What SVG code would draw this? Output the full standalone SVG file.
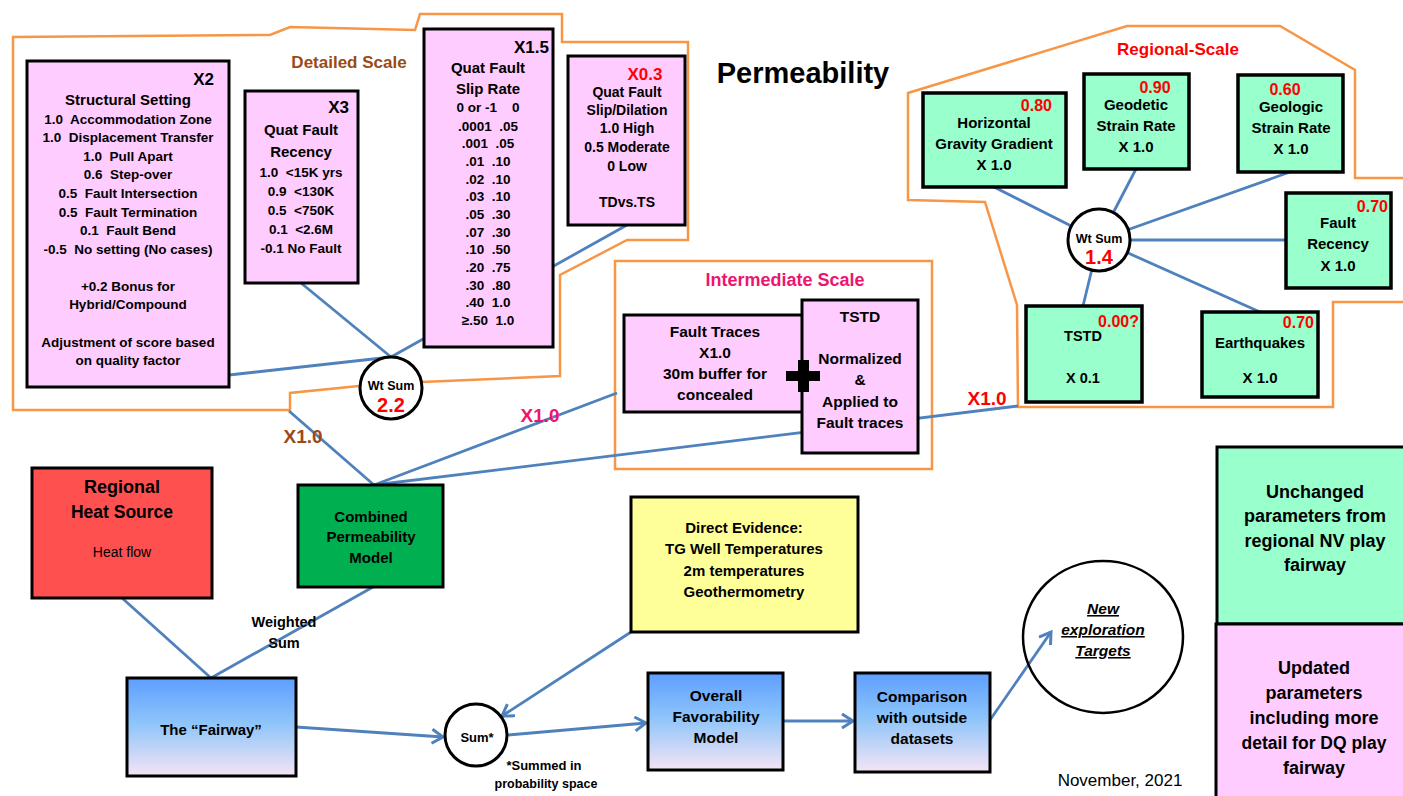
<svg xmlns="http://www.w3.org/2000/svg" width="1403" height="796" viewBox="0 0 1403 796">
<defs>
<style>
.t{font-family:"Liberation Sans",Arial,sans-serif;font-weight:bold;fill:#000;text-anchor:middle}
.n{font-weight:normal}
.e{text-anchor:end}
.red{fill:#FF0000}
.brn{fill:#9C4A14}
.pnk{fill:#EE1570}
.pk{fill:#FFCCFF;stroke:#000;stroke-width:3}
.gr{fill:#99FFCC;stroke:#000;stroke-width:3.5}
.bl{fill:url(#blueg);stroke:#000;stroke-width:3}
.org{fill:none;stroke:#F79646;stroke-width:2.5;stroke-linejoin:miter}
.cn{stroke:#4F81BD;stroke-width:2.8;fill:none}
.ar{marker-end:url(#arr)}
.cir{fill:#fff;stroke:#000;stroke-width:3}
.s135{font-size:13.5px;white-space:pre}
</style>
<linearGradient id="blueg" x1="0" y1="0" x2="0" y2="1">
<stop offset="0" stop-color="#5E9EFF"/>
<stop offset="0.45" stop-color="#8CC4FA"/>
<stop offset="1" stop-color="#F5E4F5"/>
</linearGradient>
<marker id="arr" markerUnits="userSpaceOnUse" markerWidth="16" markerHeight="18" refX="13" refY="8" orient="auto">
<path d="M2,1 L13,8 L2,15" fill="none" stroke="#4F81BD" stroke-width="3"/>
</marker>
</defs>

<g id="regions">
<path class="org" d="M13,37 L270,35 L290,27 L415,30 L420,14 L562,14 L562,42 L688,42 L688,240 L627,240 L560,275 L560,376 L422,382 L359,386 L290,393 L290,410 L13,410 Z"/>
<rect class="org" x="615" y="261" width="317" height="208"/>
<path class="org" d="M1410,302 L1333,302 L1333,407 L1018,407 L1017,305 L985,202 L908,200 L908,93 L1127,26 L1280,26 L1355,70 L1355,178 L1410,178"/>
</g>

<g id="connectors">
<line class="cn" x1="229" y1="375" x2="391" y2="357"/>
<line class="cn" x1="301" y1="283" x2="391" y2="357"/>
<line class="cn" x1="627" y1="225" x2="391" y2="357"/>
<line class="cn" x1="289" y1="411" x2="374" y2="485"/>
<line class="cn" x1="374" y1="485" x2="617" y2="393"/>
<line class="cn" x1="374" y1="485" x2="1018" y2="406"/>
<line class="cn" x1="994" y1="187" x2="1099" y2="240"/>
<line class="cn" x1="1136" y1="169" x2="1099" y2="240"/>
<line class="cn" x1="1290" y1="172" x2="1099" y2="240"/>
<line class="cn" x1="1286" y1="240" x2="1099" y2="240"/>
<line class="cn" x1="1260" y1="312" x2="1099" y2="240"/>
<line class="cn" x1="1083" y1="306" x2="1099" y2="240"/>
<line class="cn" x1="122" y1="598" x2="211" y2="678"/>
<line class="cn" x1="373" y1="587" x2="211" y2="678"/>
<line class="cn ar" x1="296" y1="727" x2="443" y2="737"/>
<line class="cn ar" x1="631" y1="632" x2="502" y2="716"/>
<line class="cn ar" x1="508" y1="735" x2="646" y2="723"/>
<line class="cn ar" x1="783" y1="721" x2="853" y2="721"/>
<line class="cn ar" x1="990" y1="720" x2="1051" y2="632"/>
</g>

<g id="labels">
<text class="t" x="803" y="83" style="font-size:29px">Permeability</text>
<text class="t brn" x="349" y="68" style="font-size:17px">Detailed Scale</text>
<text class="t pnk" x="785" y="286" style="font-size:18px">Intermediate Scale</text>
<text class="t red" x="1178" y="55" style="font-size:17px">Regional-Scale</text>
<text class="t brn" x="303" y="443" style="font-size:19px">X1.0</text>
<text class="t pnk" x="540" y="422" style="font-size:19px">X1.0</text>
<text class="t red" x="987" y="405" style="font-size:19px">X1.0</text>
<text class="t" x="284" y="627" style="font-size:14.5px">Weighted</text>
<text class="t" x="284" y="648" style="font-size:14.5px">Sum</text>
<text class="t" x="544" y="770" style="font-size:13px">*Summed in</text>
<text class="t" x="546" y="788" style="font-size:12.5px">probability space</text>
<text class="t n" x="1120" y="786" style="font-size:17px">November, 2021</text>
</g>

<g id="structural-setting">
<rect class="pk" x="27" y="61" width="202" height="326"/>
<text class="t e" x="214" y="85" style="font-size:17px">X2</text>
<text class="t" x="128" y="105" style="font-size:15px">Structural Setting</text>
<text class="t s135" x="128" y="124">1.0  Accommodation Zone</text>
<text class="t s135" x="128" y="142">1.0  Displacement Transfer</text>
<text class="t s135" x="128" y="161">1.0  Pull Apart</text>
<text class="t s135" x="128" y="179">0.6  Step-over</text>
<text class="t s135" x="128" y="198">0.5  Fault Intersection</text>
<text class="t s135" x="128" y="217">0.5  Fault Termination</text>
<text class="t s135" x="128" y="235">0.1  Fault Bend</text>
<text class="t s135" x="128" y="254">-0.5  No setting (No cases)</text>
<text class="t s135" x="128" y="291">+0.2 Bonus for</text>
<text class="t s135" x="128" y="309">Hybrid/Compound</text>
<text class="t s135" x="128" y="347">Adjustment of score based</text>
<text class="t s135" x="128" y="365">on quality factor</text>
</g>

<g id="quat-fault-recency">
<rect class="pk" x="245" y="91" width="113" height="192"/>
<text class="t e" x="349" y="113" style="font-size:17px">X3</text>
<text class="t" x="301" y="135" style="font-size:15px">Quat Fault</text>
<text class="t" x="301" y="157" style="font-size:15px">Recency</text>
<text class="t s135" x="301" y="177">1.0  &lt;15K yrs</text>
<text class="t s135" x="301" y="196">0.9  &lt;130K</text>
<text class="t s135" x="301" y="215">0.5  &lt;750K</text>
<text class="t s135" x="301" y="234">0.1  &lt;2.6M</text>
<text class="t s135" x="301" y="253">-0.1 No Fault</text>
</g>

<g id="quat-fault-slip-rate">
<rect class="pk" x="424" y="29" width="129" height="318"/>
<text class="t e" x="549" y="53" style="font-size:17px">X1.5</text>
<text class="t" x="488" y="73" style="font-size:15px">Quat Fault</text>
<text class="t" x="488" y="94" style="font-size:15px">Slip Rate</text>
<text class="t s135" x="488" y="112">0 or -1    0</text>
<text class="t s135" x="488" y="131">.0001  .05</text>
<text class="t s135" x="488" y="148">.001  .05</text>
<text class="t s135" x="488" y="166">.01  .10</text>
<text class="t s135" x="488" y="184">.02  .10</text>
<text class="t s135" x="488" y="201">.03  .10</text>
<text class="t s135" x="488" y="219">.05  .30</text>
<text class="t s135" x="488" y="237">.07  .30</text>
<text class="t s135" x="488" y="254">.10  .50</text>
<text class="t s135" x="488" y="272">.20  .75</text>
<text class="t s135" x="488" y="290">.30  .80</text>
<text class="t s135" x="488" y="307">.40  1.0</text>
<text class="t s135" x="488" y="325">≥.50  1.0</text>
</g>

<g id="quat-fault-slip-dilation">
<rect class="pk" x="568" y="56" width="117" height="169"/>
<text class="t red" x="645" y="80" style="font-size:17px">X0.3</text>
<text class="t" x="627" y="97" style="font-size:14px">Quat Fault</text>
<text class="t" x="627" y="115" style="font-size:14px">Slip/Dilation</text>
<text class="t" x="627" y="133" style="font-size:14px">1.0 High</text>
<text class="t" x="627" y="152" style="font-size:14px">0.5 Moderate</text>
<text class="t" x="627" y="171" style="font-size:14px">0 Low</text>
<text class="t" x="627" y="207" style="font-size:14px">TDvs.TS</text>
</g>

<g id="wt-sum-detailed">
<circle class="cir" cx="391" cy="388" r="31"/>
<text class="t" x="391" y="390" style="font-size:12.5px">Wt Sum</text>
<text class="t red" x="391" y="412" style="font-size:20px">2.2</text>
</g>

<g id="fault-traces">
<rect class="pk" x="624" y="315" width="179" height="97"/>
<text class="t" x="715" y="337" style="font-size:15.5px">Fault Traces</text>
<text class="t" x="715" y="358" style="font-size:15.5px">X1.0</text>
<text class="t" x="715" y="379" style="font-size:15.5px">30m buffer for</text>
<text class="t" x="715" y="400" style="font-size:15.5px">concealed</text>
</g>

<g id="tstd-intermediate">
<rect class="pk" x="802" y="300" width="116" height="153"/>
<text class="t" x="860" y="322" style="font-size:15.5px">TSTD</text>
<text class="t" x="860" y="364" style="font-size:15.5px">Normalized</text>
<text class="t" x="860" y="385" style="font-size:15.5px">&amp;</text>
<text class="t" x="860" y="407" style="font-size:15.5px">Applied to</text>
<text class="t" x="860" y="428" style="font-size:15.5px">Fault traces</text>
</g>

<g id="plus">
<rect x="786" y="371" width="34" height="10" fill="#000"/>
<rect x="798" y="360" width="11" height="32" fill="#000"/>
</g>

<g id="horizontal-gravity-gradient">
<rect class="gr" x="923" y="93" width="143" height="94"/>
<text class="t red e" x="1052" y="111" style="font-size:16px">0.80</text>
<text class="t" x="994" y="128" style="font-size:15px">Horizontal</text>
<text class="t" x="994" y="149" style="font-size:15px">Gravity Gradient</text>
<text class="t" x="994" y="170" style="font-size:15px">X 1.0</text>
</g>

<g id="geodetic-strain-rate">
<rect class="gr" x="1084" y="74" width="105" height="95"/>
<text class="t red" x="1155" y="93" style="font-size:16px">0.90</text>
<text class="t" x="1136" y="110" style="font-size:15px">Geodetic</text>
<text class="t" x="1136" y="131" style="font-size:15px">Strain Rate</text>
<text class="t" x="1136" y="152" style="font-size:15px">X 1.0</text>
</g>

<g id="geologic-strain-rate">
<rect class="gr" x="1238" y="75" width="105" height="97"/>
<text class="t red" x="1285" y="95" style="font-size:16px">0.60</text>
<text class="t" x="1291" y="112" style="font-size:15px">Geologic</text>
<text class="t" x="1291" y="133" style="font-size:15px">Strain Rate</text>
<text class="t" x="1291" y="154" style="font-size:15px">X 1.0</text>
</g>

<g id="fault-recency">
<rect class="gr" x="1286" y="193" width="105" height="95"/>
<text class="t red e" x="1388" y="212" style="font-size:16px">0.70</text>
<text class="t" x="1338" y="228" style="font-size:15px">Fault</text>
<text class="t" x="1338" y="249" style="font-size:15px">Recency</text>
<text class="t" x="1338" y="271" style="font-size:15px">X 1.0</text>
</g>

<g id="tstd-regional">
<rect class="gr" x="1026" y="306" width="116" height="96"/>
<text class="t red e" x="1139" y="327" style="font-size:16px">0.00?</text>
<text class="t" x="1083" y="341" style="font-size:14.5px">TSTD</text>
<text class="t" x="1083" y="383" style="font-size:14.5px">X 0.1</text>
</g>

<g id="earthquakes">
<rect class="gr" x="1202" y="312" width="116" height="85"/>
<text class="t red e" x="1314" y="328" style="font-size:16px">0.70</text>
<text class="t" x="1260" y="348" style="font-size:15px">Earthquakes</text>
<text class="t" x="1260" y="383" style="font-size:15px">X 1.0</text>
</g>

<g id="wt-sum-regional">
<circle class="cir" cx="1099" cy="240" r="31"/>
<text class="t" x="1099" y="243" style="font-size:12.5px">Wt Sum</text>
<text class="t red" x="1099" y="264" style="font-size:20px">1.4</text>
</g>

<g id="regional-heat-source">
<rect x="32" y="468" width="180" height="130" fill="#FF5050" stroke="#000" stroke-width="3"/>
<text class="t" x="122" y="493" style="font-size:18px">Regional</text>
<text class="t" x="122" y="518" style="font-size:17.5px">Heat Source</text>
<text class="t n" x="122" y="557" style="font-size:14px">Heat flow</text>
</g>

<g id="combined-permeability-model">
<rect x="298" y="485" width="145" height="102" fill="#00B050" stroke="#000" stroke-width="3"/>
<text class="t" x="371" y="522" style="font-size:15px">Combined</text>
<text class="t" x="371" y="542" style="font-size:15px">Permeability</text>
<text class="t" x="371" y="563" style="font-size:15px">Model</text>
</g>

<g id="fairway">
<rect class="bl" x="127" y="678" width="169" height="98"/>
<text class="t" x="211" y="735" style="font-size:15px">The “Fairway”</text>
</g>

<g id="direct-evidence">
<rect x="631" y="497" width="227" height="135" fill="#FFFF99" stroke="#000" stroke-width="3"/>
<text class="t" x="744" y="533" style="font-size:15px">Direct Evidence:</text>
<text class="t" x="744" y="554" style="font-size:15px">TG Well Temperatures</text>
<text class="t" x="744" y="576" style="font-size:15px">2m temperatures</text>
<text class="t" x="744" y="597" style="font-size:15px">Geothermometry</text>
</g>

<g id="sum">
<circle class="cir" cx="476" cy="735" r="31"/>
<text class="t" x="477" y="742" style="font-size:13px">Sum*</text>
</g>

<g id="overall-favorability-model">
<rect class="bl" x="648" y="673" width="135" height="97"/>
<text class="t" x="716" y="701" style="font-size:15.5px">Overall</text>
<text class="t" x="716" y="722" style="font-size:15.5px">Favorability</text>
<text class="t" x="716" y="743" style="font-size:15.5px">Model</text>
</g>

<g id="comparison">
<rect class="bl" x="855" y="673" width="135" height="99"/>
<text class="t" x="922" y="702" style="font-size:15.5px">Comparison</text>
<text class="t" x="922" y="723" style="font-size:15.5px">with outside</text>
<text class="t" x="922" y="744" style="font-size:15.5px">datasets</text>
</g>

<g id="new-exploration-targets">
<ellipse cx="1103" cy="637" rx="80" ry="76" fill="none" stroke="#000" stroke-width="2.5"/>
<text class="t" x="1103" y="614" style="font-size:15.5px;font-style:italic;text-decoration:underline">New </text>
<text class="t" x="1103" y="635" style="font-size:15.5px;font-style:italic;text-decoration:underline">exploration</text>
<text class="t" x="1103" y="656" style="font-size:15.5px;font-style:italic;text-decoration:underline">Targets</text>
</g>

<g id="legend-unchanged">
<rect x="1217" y="447" width="195" height="177" fill="#99FFCC" stroke="#000" stroke-width="3"/>
<text class="t" x="1315" y="498" style="font-size:18px">Unchanged</text>
<text class="t" x="1315" y="522" style="font-size:18px">parameters from</text>
<text class="t" x="1315" y="547" style="font-size:18px">regional NV play</text>
<text class="t" x="1315" y="571" style="font-size:18px">fairway</text>
</g>

<g id="legend-updated">
<rect x="1216" y="624" width="196" height="180" fill="#FFCCFF" stroke="#000" stroke-width="3"/>
<text class="t" x="1314" y="674" style="font-size:18px">Updated</text>
<text class="t" x="1314" y="699" style="font-size:18px">parameters</text>
<text class="t" x="1314" y="724" style="font-size:18px">including more</text>
<text class="t" x="1314" y="749" style="font-size:17.5px">detail for DQ play</text>
<text class="t" x="1314" y="774" style="font-size:18px">fairway</text>
</g>
</svg>
